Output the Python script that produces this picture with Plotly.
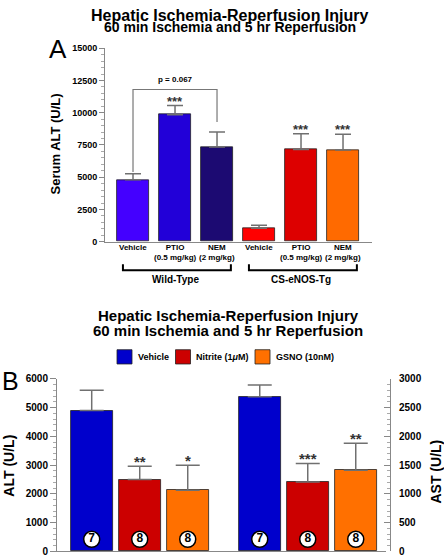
import plotly.graph_objects as go

W, H = 444, 560
FONT = "Liberation Sans, Arial, Helvetica, sans-serif"


def px(x):
    return x / W


def py(y):
    return 1 - y / H


# ---------------- Panel A data ----------------
a_title1 = "Hepatic Ischemia-Reperfusion Injury"
a_title2 = "60 min Ischemia and 5 hr Reperfusion"
a_labels = ["Vehicle", "PTIO<br>(0.5 mg/kg)", "NEM<br>(2 mg/kg)",
            "Vehicle", "PTIO<br>(0.5 mg/kg)", "NEM<br>(2 mg/kg)"]
a_groups = ["Wild-Type", "CS-eNOS-Tg"]
a_group_members = [[0, 1, 2], [3, 4, 5]]
a_values = [4800, 9850, 7350, 1050, 7150, 7100]
a_err = [470, 700, 1150, 220, 1220, 1220]
a_sig = ["", "***", "", "", "***", "***"]
a_colors = ["#4400FF", "#2200D8", "#1C0A72", "#FF0000", "#DD0000", "#FF6A00"]
a_ytitle = "Serum ALT (U/L)"
a_yticks = [0, 2500, 5000, 7500, 10000, 12500, 15000]
a_pvalue = "p = 0.067"
a_pvalue_pair = [0, 2]

# ---------------- Panel B data ----------------
b_title1 = "Hepatic Ischemia-Reperfusion Injury"
b_title2 = "60 min Ischemia and 5 hr Reperfusion"
b_series = ["Vehicle", "Nitrite (1<i>μ</i>M)", "GSNO (10nM)"]
b_colors = ["#0000CC", "#CC0000", "#FF7000"]
b_alt = [4900, 2500, 2125]
b_alt_err = [705, 460, 875]
b_alt_sig = ["", "**", "*"]
b_ast = [2690, 1205, 1410]
b_ast_err = [205, 325, 470]
b_ast_sig = ["", "***", "**"]
b_n_alt = [7, 8, 8]
b_n_ast = [7, 8, 8]
b_ytitle_left = "ALT (U/L)"
b_ytitle_right = "AST (U/L)"
b_yticks_left = [0, 1000, 2000, 3000, 4000, 5000, 6000]
b_yticks_right = [0, 500, 1000, 1500, 2000, 2500, 3000]

ERR_COLOR = "#707070"
AXIS_COLOR = "#888888"

fig = go.Figure()

# ---- Panel A bars ----
a_x = list(range(len(a_values)))
fig.add_trace(go.Bar(
    x=a_x, y=a_values, width=0.75,
    marker=dict(color=a_colors, line=dict(color="#222", width=0.8)),
    error_y=dict(type="data", symmetric=False, array=a_err,
                 arrayminus=[0] * len(a_err), color=ERR_COLOR,
                 thickness=1.5, width=8),
    xaxis="x", yaxis="y", showlegend=False, hoverinfo="skip"))

# ---- Panel B bars ----
GROUP_GAP = 3.5
b_x_alt = [i for i in range(len(b_alt))]
b_x_ast = [i + GROUP_GAP for i in range(len(b_ast))]
fig.add_trace(go.Bar(
    x=b_x_alt, y=b_alt, width=0.875,
    marker=dict(color=b_colors, line=dict(color="#222", width=0.8)),
    error_y=dict(type="data", symmetric=False, array=b_alt_err,
                 arrayminus=[0] * 3, color=ERR_COLOR, thickness=1.5, width=12),
    xaxis="x2", yaxis="y2", showlegend=False, hoverinfo="skip"))
fig.add_trace(go.Bar(
    x=b_x_ast, y=b_ast, width=0.875,
    marker=dict(color=b_colors, line=dict(color="#222", width=0.8)),
    error_y=dict(type="data", symmetric=False, array=b_ast_err,
                 arrayminus=[0] * 3, color=ERR_COLOR, thickness=1.5, width=12),
    xaxis="x2", yaxis="y3", showlegend=False, hoverinfo="skip"))

# ---- n labels in circles ----
N_Y = 420  # in ALT units (half of it on the AST axis)
circle_marker = dict(size=16, color="white", line=dict(color="black", width=1.5))
circle_font = dict(family=FONT, size=12, color="black", weight="bold")
fig.add_trace(go.Scatter(
    x=b_x_alt, y=[N_Y] * len(b_x_alt), text=[str(n) for n in b_n_alt],
    mode="markers+text", textposition="middle center",
    marker=circle_marker, textfont=circle_font,
    xaxis="x2", yaxis="y2", showlegend=False, hoverinfo="skip"))
fig.add_trace(go.Scatter(
    x=b_x_ast, y=[N_Y / 2] * len(b_x_ast), text=[str(n) for n in b_n_ast],
    mode="markers+text", textposition="middle center",
    marker=circle_marker, textfont=circle_font,
    xaxis="x2", yaxis="y3", showlegend=False, hoverinfo="skip"))

annotations = []
shapes = []


def txt(x, y, text, size, xref="paper", yref="paper", weight="bold",
        xanchor="center", yanchor="middle", angle=0, color="black",
        yshift=0):
    annotations.append(dict(
        x=x, y=y, xref=xref, yref=yref, text=text, showarrow=False,
        xanchor=xanchor, yanchor=yanchor, textangle=angle, yshift=yshift,
        font=dict(family=FONT, size=size, color=color, weight=weight)))


# Titles
txt(px(230), 1.0, a_title1, 16, yanchor="top")
txt(px(230), py(22), a_title2, 14)
txt(px(228), py(316), b_title1, 15)
txt(px(228), py(331.5), b_title2, 15)

# Panel letters
txt(px(47), py(45), "A", 26, weight="normal", xanchor="left")
txt(px(0), py(383), "B", 25, weight="normal", xanchor="left")

# Axis titles
txt(px(55), py(142), a_ytitle, 13, angle=-90)
txt(px(9), py(469), b_ytitle_left, 14, angle=-90)
txt(px(436), py(475), b_ytitle_right, 14, angle=-90)

# Panel A category labels
for i, lab in enumerate(a_labels):
    txt(i, py(240), lab, 8, xref="x", yanchor="top")

# Panel A significance
for i, s in enumerate(a_sig):
    if s:
        txt(i, a_values[i] + a_err[i], s, 13, xref="x", yref="y",
            yanchor="bottom", yshift=-5, color="#333")

# p-value bracket
BR_Y = 11800
l, r = a_pvalue_pair
shapes.append(dict(
    type="path", xref="x", yref="y",
    path=f"M {l} {a_values[l] + a_err[l] + 130} L {l} {BR_Y} "
         f"L {r} {BR_Y} L {r} {a_values[r] + a_err[r] + 780}",
    line=dict(color="#777", width=1.2)))
txt((l + r) / 2, BR_Y, a_pvalue, 8, xref="x", yref="y", yanchor="bottom",
    yshift=3)

# Group brackets
for g, members in zip(a_groups, a_group_members):
    x0 = members[0] - 0.24
    x1 = members[-1] + 0.33
    shapes.append(dict(
        type="path", xref="x", yref="paper",
        path=f"M {x0} {py(264)} L {x0} {py(270)} L {x1} {py(270)} L {x1} {py(264)}",
        line=dict(color="black", width=2)))
    txt((members[0] + members[-1]) / 2, py(279.5), g, 10, xref="x")

# Panel B significance
for i, s in enumerate(b_alt_sig):
    if s:
        txt(b_x_alt[i], b_alt[i] + b_alt_err[i], s, 15, xref="x2", yref="y2",
            yanchor="bottom", yshift=-6, color="#333")
for i, s in enumerate(b_ast_sig):
    if s:
        txt(b_x_ast[i], b_ast[i] + b_ast_err[i], s, 15, xref="x2", yref="y3",
            yanchor="bottom", yshift=-6, color="#333")

# Panel B legend
leg_box_x = [117, 175.5, 255]
for bx, name, col in zip(leg_box_x, b_series, b_colors):
    shapes.append(dict(type="rect", xref="paper", yref="paper",
                       x0=px(bx), x1=px(bx + 15), y0=py(365.5), y1=py(351),
                       fillcolor=col, line=dict(color="#222", width=0.8)))
    txt(px(bx + 18.5), py(358), name, 9, xanchor="left")

tick_font = dict(family=FONT, size=9, color="black", weight="bold")
tick_font_b = dict(family=FONT, size=10, color="black", weight="bold")

fig.update_layout(
    width=W, height=H, margin=dict(l=0, r=0, t=0, b=0),
    paper_bgcolor="white", plot_bgcolor="white",
    bargap=0, showlegend=False,
    annotations=annotations, shapes=shapes,
    xaxis=dict(domain=[px(105), px(372)], range=[-0.667, 5.69],
               showline=True, linecolor=AXIS_COLOR, linewidth=1,
               showticklabels=False, ticks="", showgrid=False,
               zeroline=False, anchor="y", fixedrange=True),
    yaxis=dict(domain=[py(241), py(44)], range=[0, 15000],
               tickmode="array", tickvals=a_yticks,
               ticktext=[str(v) for v in a_yticks],
               ticks="outside", ticklen=5, tickcolor=AXIS_COLOR,
               showline=True, linecolor=AXIS_COLOR, linewidth=1,
               showgrid=False, zeroline=False, tickfont=tick_font,
               minor=dict(dtick=500, tick0=0, ticks="outside", ticklen=3,
                          tickcolor="#aaaaaa", showgrid=False),
               anchor="x", fixedrange=True),
    xaxis2=dict(domain=[px(57), px(386)], range=[-0.723, 6.13],
                showline=True, linecolor=AXIS_COLOR, linewidth=1,
                showticklabels=False, ticks="", showgrid=False,
                zeroline=False, anchor="y2", fixedrange=True),
    yaxis2=dict(domain=[py(556.3), py(380.7)], range=[0, 6000],
                tickmode="array", tickvals=b_yticks_left,
                ticktext=[str(v) for v in b_yticks_left],
                ticks="outside", ticklen=6, tickcolor=AXIS_COLOR,
                showline=True, linecolor=AXIS_COLOR, linewidth=1,
                showgrid=False, zeroline=False, tickfont=tick_font_b,
                minor=dict(dtick=200, tick0=0, ticks="outside", ticklen=3,
                           tickcolor="#aaaaaa", showgrid=False),
                anchor="x2", fixedrange=True),
    yaxis3=dict(overlaying="y2", side="right", anchor="free",
                position=px(390), range=[0, 3000],
                tickmode="array", tickvals=b_yticks_right,
                ticktext=[str(v) for v in b_yticks_right],
                ticks="inside", ticklen=6,
                tickcolor=AXIS_COLOR, ticklabelstandoff=6,
                showline=True, linecolor=AXIS_COLOR, linewidth=1,
                showgrid=False, zeroline=False, tickfont=tick_font_b,
                minor=dict(dtick=100, tick0=0, ticks="inside", ticklen=3,
                           tickcolor="#aaaaaa", showgrid=False),
                fixedrange=True),
)

fig.write_html("out.html", config={"displayModeBar": False},
               post_script="document.body.style.margin='0';"
                           "document.body.style.overflow='hidden';")
